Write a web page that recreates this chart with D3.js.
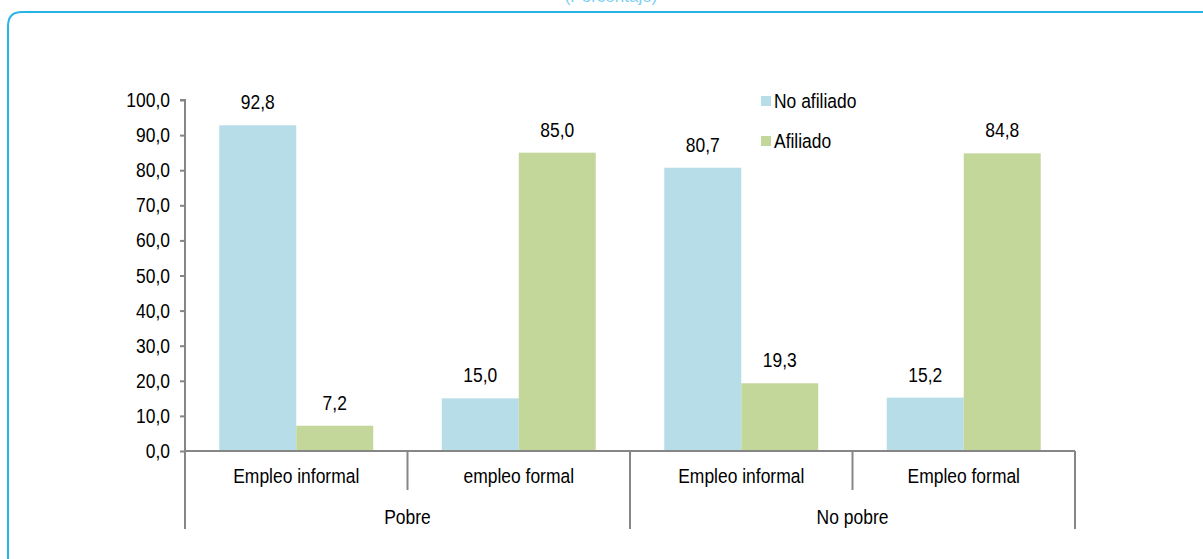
<!DOCTYPE html>
<html><head><meta charset="utf-8">
<script src="https://cdn.jsdelivr.net/npm/d3@7"></script>
<style>body{margin:0;background:#fff}svg{display:block}text{font-family:"Liberation Sans",Arial,sans-serif;fill:#000}</style>
</head><body><svg id="c" width="1203" height="559"></svg>
<script>
const groups = ["Pobre", "No pobre"];
const subcats = ["Empleo informal", "empleo formal", "Empleo informal", "Empleo formal"];
const seriesNames = ["No afiliado", "Afiliado"];
const noAfiliado = [92.8, 15.0, 80.7, 15.2];
const afiliado = [7.2, 85.0, 19.3, 84.8];
const yTicks = [0, 10, 20, 30, 40, 50, 60, 70, 80, 90, 100];
const colors = ["#b7dde8", "#c4d79b"];

const svg = d3.select("#c");
const fmt = v => v.toFixed(1).replace(".", ",");
const FS = 19.5, SX = 0.895;

// narrow text helper
function ntext(sel, xf, yf, anchor, txt) {
  return sel.append("text")
    .attr("transform", (d, i) => `translate(${xf(d, i)},${yf(d, i)}) scale(${SX},1)`)
    .attr("text-anchor", anchor)
    .style("font-size", FS + "px")
    .text(txt);
}

// frame
svg.append("path")
  .attr("d", "M8,559 L8,26 Q8,12 22,12 L1203,12")
  .attr("fill", "none").attr("stroke", "#29b4e6").attr("stroke-width", 2);
svg.append("text").attr("x", 611).attr("y", 2).attr("text-anchor", "middle")
  .style("font-size", "17px").style("fill", "#7fd0ef").text("(Porcentaje)");

const x0 = 185, x1 = 1075, yBase = 451, yTop = 100;
const x = d3.scaleBand().domain(d3.range(subcats.length)).range([x0, x1]);
const xs = d3.scaleBand().domain([0, 1]).range([0, x.bandwidth()]).paddingOuter(0.445).paddingInner(0);
const y = d3.scaleLinear().domain([0, 100]).range([yBase, yTop]);

const axisColor = "#868686";

// bars
const data = [];
subcats.forEach((c, i) => {
  [noAfiliado[i], afiliado[i]].forEach((v, s) => data.push({i, s, v}));
});
svg.append("g").selectAll("rect").data(data).join("rect")
  .attr("x", d => x(d.i) + xs(d.s))
  .attr("width", xs.bandwidth())
  .attr("y", d => y(d.v))
  .attr("height", d => y(0) - y(d.v))
  .attr("fill", d => colors[d.s]);
const vl = svg.append("g").selectAll("g").data(data).join("g");
ntext(vl, d => x(d.i) + xs(d.s) + xs.bandwidth() / 2, d => y(d.v) - 16, "middle", d => fmt(d.v));

// y axis
const ya = svg.append("g").attr("transform", `translate(${x0},0)`)
  .call(d3.axisLeft(y).tickValues(yTicks).tickSize(5).tickPadding(9).tickFormat(fmt));
ya.selectAll("path,line").attr("stroke", axisColor).attr("stroke-width", 2);
ya.select("path").attr("d", `M-5,${y(100)}H0V${yBase}`);
ya.selectAll("text").remove();
const yl = svg.append("g").selectAll("g").data(yTicks).join("g");
ntext(yl, () => x0 - 15, d => y(d) + 7, "end", d => fmt(d));

// x axis baseline
svg.append("line").attr("x1", x0).attr("x2", x1).attr("y1", yBase).attr("y2", yBase)
  .attr("stroke", axisColor).attr("stroke-width", 2);

// separators
const seps = d3.range(subcats.length + 1);
svg.append("g").selectAll("line").data(seps).join("line")
  .attr("x1", i => i === subcats.length ? x1 : x(i))
  .attr("x2", i => i === subcats.length ? x1 : x(i))
  .attr("y1", yBase)
  .attr("y2", i => (i % 2 === 0) ? 529 : 490)
  .attr("stroke", axisColor).attr("stroke-width", 2);

// subcategory labels
const sl = svg.append("g").selectAll("g").data(subcats).join("g");
ntext(sl, (d, i) => x(i) + x.bandwidth() / 2, () => 483, "middle", d => d);

// group labels
const gl = svg.append("g").selectAll("g").data(groups).join("g");
ntext(gl, (d, g) => x(g * 2) + x.bandwidth(), () => 524, "middle", d => d);

// legend
const lg = svg.append("g").selectAll("g").data(seriesNames).join("g")
  .attr("transform", (d, i) => `translate(761,${96 + i * 40})`);
lg.append("rect").attr("width", 10).attr("height", 10).attr("fill", (d, i) => colors[i]);
ntext(lg, () => 13, () => 12, "start", d => d);
</script></body></html>
